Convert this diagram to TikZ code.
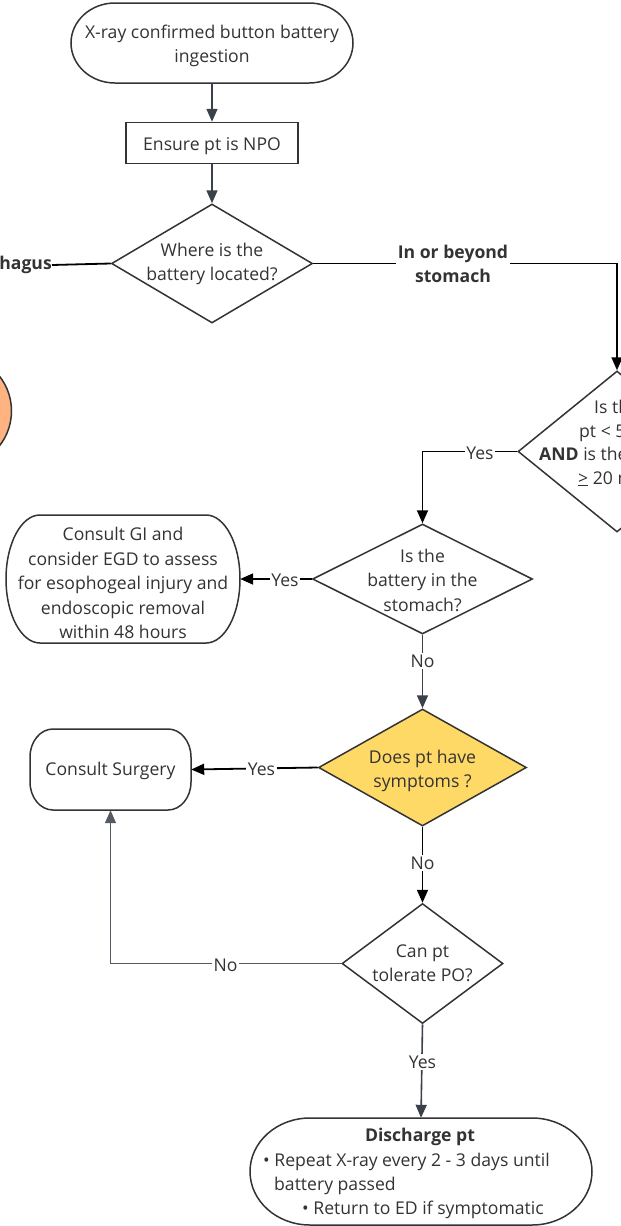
\documentclass[tikz,border=0pt]{standalone}
\usepackage{fontspec}
\setmainfont{Open Sans}
\usetikzlibrary{arrows.meta,shapes.geometric}
\definecolor{txt}{HTML}{333333}
\definecolor{slate}{HTML}{3A414A}
\definecolor{edge}{HTML}{333333}
\definecolor{gold}{HTML}{FFD966}
\definecolor{peach}{HTML}{FFB380}
\definecolor{softline}{HTML}{555B63}
\newcommand{\ovalpath}[6]{%
  \draw[shapeline] (#1+#5,#2) -- (#3-#5,#2)
    arc[start angle=90,end angle=0,x radius=#5pt,y radius=#6pt]
    -- (#3,#4-#6)
    arc[start angle=0,end angle=-90,x radius=#5pt,y radius=#6pt]
    -- (#1+#5,#4)
    arc[start angle=-90,end angle=-180,x radius=#5pt,y radius=#6pt]
    -- (#1,#2+#6)
    arc[start angle=180,end angle=90,x radius=#5pt,y radius=#6pt]
    -- cycle;}
\begin{document}
\begin{tikzpicture}[x=1pt,y=-1pt,
  every node/.style={text=txt,font=\fontsize{17.6}{24.5}\selectfont},
  shapeline/.style={draw=edge,line width=1.5pt,fill=white},
  box/.style={draw=none,inner sep=0pt,align=center},
  dia/.style={shape=diamond,draw=edge,line width=1.5pt,fill=white,inner sep=0pt},
  tip/.style={-{Triangle[length=13pt,width=11pt]}},
  slateconn/.style={draw=slate,line width=1.6pt},
  blackconn/.style={draw=black,line width=1.8pt},
  softconn/.style={draw=softline,line width=1.3pt},
  lbl/.style={fill=white,inner sep=1.5pt},
  frag/.style={anchor=base west,inner sep=0pt}
]
\fill[white] (0,0) rectangle (621,1226);
\useasboundingbox (0,0) rectangle (621,1226);
\clip (0,0) rectangle (621,1226);

% cut-off shape at left edge
\node[circle,draw=edge,line width=1.5pt,fill=peach,minimum size=113pt,inner sep=0pt] (orb) at (-45,411) {};

% start terminal
\ovalpath{71}{3}{353}{83}{44}{40}
\node[box,minimum width=282pt,minimum height=80pt] (start) at (212,43) {};
\node[box] (startt) at (212,46) {X-ray confirmed button battery\\ingestion};

% NPO
\node[draw=edge,line width=1.5pt,fill=white,minimum width=172pt,minimum height=41pt,inner sep=0pt] (npo) at (212,143) {};
\node[box] (npot) at (212,146) {Ensure pt is NPO};

% decision 1
\node[dia,minimum width=201pt,minimum height=119pt] (d1) at (212,263.5) {};
\node[box] (d1t) at (212,264) {Where is the\\battery located?};
\node[anchor=east,inner sep=0pt] (eso) at (52,265) {\bfseries Esophagus};

% decision 2 (cut off)
\node[dia,minimum width=198pt,minimum height=161pt] (d2) at (617,451.5) {};
\node[frag] (d2a) at (594,413) {Is the};
\node[frag] (d2b) at (579,437) {pt < 5};
\node[frag] (d2c) at (539,460) {\bfseries AND\mdseries{} is the};
\node[frag] (d2d) at (578,484) {\underline{>} 20 m};

% decision 3
\node[dia,minimum width=220pt,minimum height=110pt] (d3) at (422.5,579) {};
\node[box] (d3t) at (422.5,580) {Is the\\battery in the\\stomach?};

% consult GI
\ovalpath{6}{515}{240}{643}{34}{64}
\node[box,minimum width=234pt,minimum height=128pt] (gi) at (123,579) {};
\node[box] (git) at (123,583) {Consult GI and\\consider EGD to assess\\for esophogeal injury and\\endoscopic removal\\within 48 hours};

% decision 4
\node[dia,fill=gold,minimum width=208pt,minimum height=117pt] (d4) at (422.5,767.5) {};
\node[box] (d4t) at (422.5,771) {Does pt have\\symptoms ?};

% consult surgery
\ovalpath{30}{729}{191}{810}{23}{28}
\node[box,minimum width=161pt,minimum height=81pt] (surg) at (110.5,769.5) {};
\node[box] (surgt) at (110.5,771) {Consult Surgery};

% decision 5
\node[dia,minimum width=161pt,minimum height=120pt] (d5) at (422.5,963.5) {};
\node[box] (d5t) at (422.5,963) {Can pt\\tolerate PO?};

% discharge
\ovalpath{250}{1118}{592}{1225}{60}{53.5}
\node[box,minimum width=342pt,minimum height=107pt] (dis) at (421,1171.5) {};
\node[anchor=base,inner sep=0pt] (dist) at (420,1141) {\bfseries Discharge pt};
\node[frag] (disa) at (263,1166) {• Repeat X-ray every 2 - 3 days until};
\node[frag] (disb) at (274,1190) {battery passed};
\node[frag] (disc) at (302,1214) {• Return to ED if symptomatic};

% connectors
\draw[slateconn,tip] (start.south) -- (npo.north);
\draw[slateconn,tip] (npo.south) -- (d1.north);
\draw[blackconn] (d1.west) -- (eso.east);
\draw[blackconn,tip] (d1.east) -| (d2.north);
\draw[blackconn,tip] (d2.west) -| (d3.north);
\draw[blackconn,tip] (d3.west) -- (gi.east);
\draw[slateconn,tip] (d3.south) -- (d4.north);
\draw[blackconn,tip] (d4.west) -- (surg.east);
\draw[blackconn,tip] (d4.south) -- (d5.north);
\draw[softconn,tip] (d5.west) -| (surg.south);
\draw[slateconn,tip] (d5.south) -- (dis.north);

% connector labels
\node[lbl,align=center] (lloc) at (453,264) {\bfseries In or beyond\\\bfseries stomach};
\node[lbl] (ly2) at (480,453) {Yes};
\node[lbl] (ly3) at (285,580) {Yes};
\node[lbl] (ln3) at (422.5,661) {No};
\node[lbl] (ly4) at (261.5,769) {Yes};
\node[lbl] (ln4) at (422.5,863) {No};
\node[lbl] (ln5) at (225.5,965) {No};
\node[lbl] (ly5) at (422.5,1062) {Yes};
\end{tikzpicture}
\end{document}
